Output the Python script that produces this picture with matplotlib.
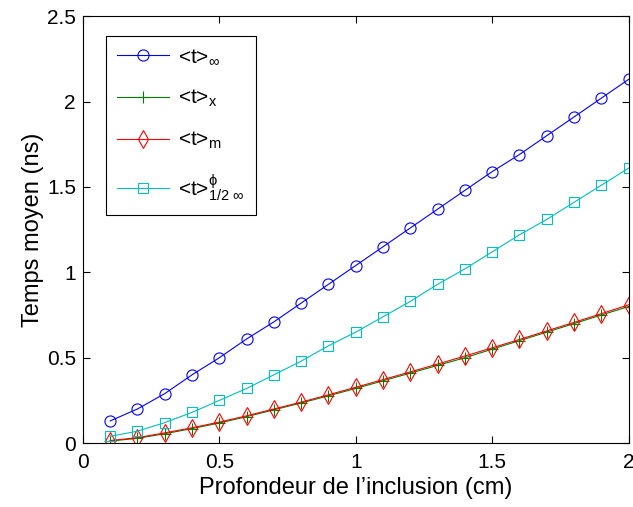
import matplotlib
matplotlib.use("Agg")
import matplotlib.pyplot as plt
import numpy as np

plt.rcParams['font.family'] = ['Liberation Sans', 'DejaVu Sans']
plt.rcParams['mathtext.fontset'] = 'custom'
plt.rcParams['mathtext.rm'] = 'Liberation Sans'
plt.rcParams['mathtext.it'] = 'Liberation Sans'
plt.rcParams['mathtext.bf'] = 'Liberation Sans:bold'

depth = [0.1, 0.2, 0.3, 0.4, 0.5, 0.6, 0.7, 0.8, 0.9, 1.0,
         1.1, 1.2, 1.3, 1.4, 1.5, 1.6, 1.7, 1.8, 1.9, 2.0]
t_inf = [0.13, 0.20, 0.29, 0.40, 0.50, 0.61, 0.71, 0.82, 0.93, 1.04,
         1.15, 1.26, 1.37, 1.48, 1.59, 1.69, 1.80, 1.91, 2.02, 2.13]
t_x = [0.012, 0.028, 0.055, 0.085, 0.118, 0.155, 0.195, 0.235, 0.277, 0.32,
       0.365, 0.41, 0.455, 0.50, 0.55, 0.60, 0.65, 0.70, 0.75, 0.80]
t_m = [0.015, 0.032, 0.06, 0.09, 0.123, 0.16, 0.20, 0.24, 0.283, 0.327,
       0.372, 0.417, 0.463, 0.51, 0.558, 0.607, 0.657, 0.707, 0.758, 0.81]
t_phi = [0.04, 0.07, 0.12, 0.18, 0.25, 0.32, 0.40, 0.48, 0.57, 0.65,
         0.74, 0.83, 0.93, 1.02, 1.12, 1.22, 1.31, 1.41, 1.51, 1.61]

labels = [r'<t>$_{\infty}$', r'<t>$_{\mathrm{x}}$', r'<t>$_{\mathrm{m}}$',
          r'<t>$^{\phi}_{\mathrm{1/2}\ \infty}$']

fig = plt.figure(figsize=(6.33, 5.07), dpi=100)
ax = fig.add_axes([0.131, 0.126, 0.862, 0.842])

ax.plot(depth, t_inf, '-o', color='#0000ff', lw=0.8, ms=8, mfc='none', mew=0.8, label=labels[0])
ax.plot(depth, t_x, '-+', color='#007f00', lw=0.8, ms=8, mew=0.8, label=labels[1])
ax.plot(depth, t_m, '-d', color='#ff0000', lw=0.8, ms=9, mfc='none', mew=0.8, label=labels[2])
ax.plot(depth, t_phi, '-s', color='#00bfbf', lw=0.8, ms=7, mfc='none', mew=0.8, label=labels[3])

ax.set_xlim(0, 2)
ax.set_ylim(0, 2.5)
ax.set_xticks([0, 0.5, 1, 1.5, 2])
ax.set_xticklabels(['0', '0.5', '1', '1.5', '2'])
ax.set_yticks([0, 0.5, 1, 1.5, 2, 2.5])
ax.set_yticklabels(['0', '0.5', '1', '1.5', '2', '2.5'])
ax.tick_params(direction='in', labelsize=15, top=True, right=True, length=5, width=0.8, pad=5)
ax.tick_params(axis='x', pad=7)
for s in ax.spines.values():
    s.set_linewidth(0.8)

ax.set_xlabel("Profondeur de l\u2019inclusion (cm)", fontsize=17, labelpad=4)
ax.set_ylabel("Temps moyen (ns)", fontsize=17, labelpad=2)

leg = ax.legend(loc='upper left', bbox_to_anchor=(0.042, 0.953), borderaxespad=0,
                fontsize=15, handlelength=2.5, fancybox=False, edgecolor='black',
                borderpad=0.55, labelspacing=1.0, handletextpad=0.4, framealpha=1)
leg.get_frame().set_linewidth(0.8)

fig.savefig('out.png', dpi=100)
